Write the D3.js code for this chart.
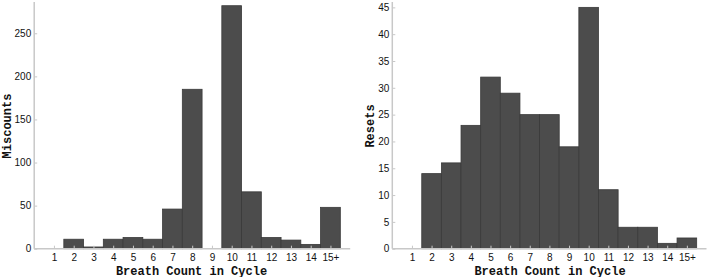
<!DOCTYPE html>
<html>
<head>
<meta charset="utf-8">
<script src="https://cdn.jsdelivr.net/npm/d3@7"></script>
<style>
  html, body { margin: 0; padding: 0; background: #fff; }
  svg { display: block; }
</style>
</head>
<body>
<svg id="chart" width="709" height="277"></svg>
<script>
const categories = [1, 2, 3, 4, 5, 6, 7, 8, 9, 10, 11, 12, 13, 14, 15];
const tickLabels = ["1","2","3","4","5","6","7","8","9","10","11","12","13","14","15+"];
const miscounts = [0, 11, 2, 11, 13, 11, 46, 185, 0, 282, 66, 13, 10, 5, 48];
const resets = [0, 14, 16, 23, 32, 29, 25, 25, 19, 45, 11, 4, 4, 1, 2];
const miscountTicks = [0, 50, 100, 150, 200, 250];
const resetTicks = [0, 5, 10, 15, 20, 25, 30, 35, 40, 45];

const svg = d3.select("#chart");

function panel(cfg) {
  const x = d3.scaleLinear().domain([0, 16]).range([cfg.x0, cfg.x1]);
  const y = d3.scaleLinear().domain([0, cfg.yMax]).range([248.7, 2]);
  const g = svg.append("g");
  const bw = x(1) - x(0);

  g.selectAll("rect.bar").data(cfg.values.map((v, i) => ({c: categories[i], v})).filter(d => d.v > 0))
    .enter().append("rect")
    .attr("class", "bar")
    .attr("x", d => x(d.c) - bw / 2)
    .attr("width", bw)
    .attr("y", d => y(d.v))
    .attr("height", d => y(0) - y(d.v))
    .attr("fill", "#4c4c4c")
    .attr("stroke", "#3a3a3a")
    .attr("stroke-width", 0.8);

  // x axis
  const xAxis = d3.axisTop(x).tickValues(categories).tickSize(3)
    .tickFormat((d, i) => tickLabels[i]);
  const xg = g.append("g").attr("transform", `translate(0,${y(0)})`).call(xAxis);
  xg.select(".domain").remove();
  xg.selectAll(".tick line").attr("stroke", "#c8c8c8");
  xg.selectAll(".tick text").attr("y", 12.5).attr("dy", "0")
    .attr("font-family", "Liberation Sans, Arial, sans-serif").attr("font-size", 10).attr("fill", "#111");
  g.append("line").attr("x1", x(0)).attr("x2", x(16)).attr("y1", y(0)).attr("y2", y(0))
    .attr("stroke", "#c8c8c8").attr("stroke-width", 1.5);

  // y axis
  const yAxis = d3.axisRight(y).tickValues(cfg.yTicks).tickSize(3);
  const yg = g.append("g").attr("transform", `translate(${x(0)},0)`).call(yAxis);
  yg.select(".domain").remove();
  yg.selectAll(".tick line").attr("stroke", "#c8c8c8");
  yg.selectAll(".tick text").attr("x", -3).attr("text-anchor", "end")
    .attr("font-family", "Liberation Sans, Arial, sans-serif").attr("font-size", 10).attr("fill", "#111");
  g.append("line").attr("x1", x(0)).attr("x2", x(0)).attr("y1", y(0)).attr("y2", 2)
    .attr("stroke", "#c8c8c8").attr("stroke-width", 1.5);

  // labels
  g.append("text").attr("x", cfg.xLabelCx).attr("y", 274.5).attr("text-anchor", "middle")
    .attr("font-family", "Liberation Mono, Courier New, monospace").attr("font-weight", "bold")
    .attr("font-size", 12).attr("fill", "#111").text("Breath Count in Cycle");
  g.append("text").attr("transform", `translate(${cfg.yLabelX},126) rotate(-90)`)
    .attr("text-anchor", "middle")
    .attr("font-family", "Liberation Mono, Courier New, monospace").attr("font-weight", "bold")
    .attr("font-size", 12).attr("fill", "#111").text(cfg.yLabel);
}

panel({x0: 34.2, x1: 350.2, yMax: 286.3, values: miscounts, yTicks: miscountTicks,
       xLabelCx: 191.5, yLabelX: 10.5, yLabel: "Miscounts"});
panel({x0: 392.3, x1: 706.5, yMax: 46, values: resets, yTicks: resetTicks,
       xLabelCx: 550, yLabelX: 374, yLabel: "Resets"});
</script>
</body>
</html>
